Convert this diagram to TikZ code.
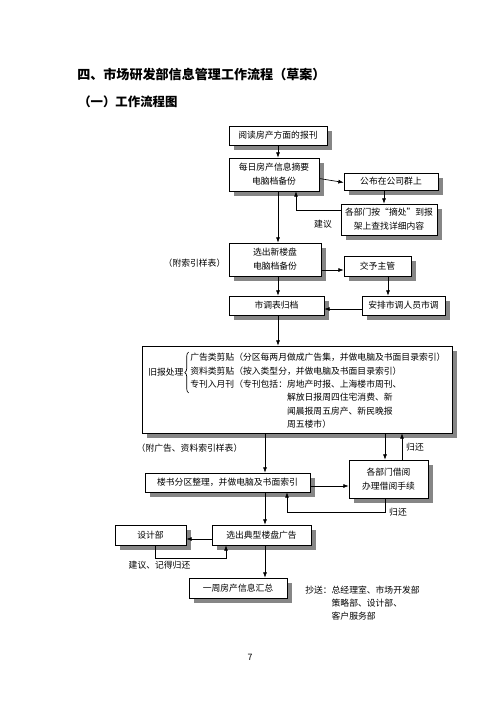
\documentclass[tikz,border=0pt]{standalone}
\usepackage{fontspec}
\setmainfont{Noto Sans CJK SC}
\usetikzlibrary{arrows.meta, calc, shadows, decorations.pathreplacing}

\begin{document}
\begin{tikzpicture}[
  x=0.75pt, y=-0.75pt,
  >={Latex[length=4pt,width=3pt]},
  box/.style={draw, fill=white, line width=0.5pt, inner sep=0pt, align=center,
              font=\fontsize{6.6}{10.5}\selectfont,
              drop shadow={shadow xshift=3.6pt, shadow yshift=-3.6pt,
                           fill=gray!95, opacity=1}},
  boxsize/.style 2 args={minimum width=#1*0.75pt, minimum height=#2*0.75pt},
  arr/.style={->, line width=0.5pt},
  note/.style={font=\fontsize{6.6}{10}\selectfont, inner sep=0pt},
  head/.style={font=\bfseries\fontsize{#1}{12}\selectfont, inner sep=0pt, anchor=west},
]
\fill[white] (0,0) rectangle (500,707);
\useasboundingbox (0,0) rectangle (500,707);

%% ---------- Headings ---------------------------------------------
\node[head=9.8] (title)    at (77,75)  {四、市场研发部信息管理工作流程（草案）};
\node[head=9.3] (subtitle) at (78,102) {（一）工作流程图};

%% ---------- Upper part -------------------------------------------
\node[box, boxsize={98}{19}] (read)    at (278,135.5) {阅读房产方面的报刊};
\node[box, boxsize={90}{33}] (digest)  at (274,174.5) {每日房产信息摘要\\电脑档备份};
\node[box, boxsize={94}{17}] (publish) at (391,181.5) {公布在公司群上};
\node[box, boxsize={96}{31}] (search)  at (389,219.5) {各部门按“摘处”到报\\架上查找详细内容};
\node[note] (advice) at (323,224) {建议};

%% ---------- New buildings ----------------------------------------
\node[box, boxsize={92}{33}] (newbld)  at (275,259.5) {选出新楼盘\\电脑档备份};
\node[note] (indexnote) at (194.5,263) {（附索引样表）};
\node[box, boxsize={67}{20}] (boss)    at (377.5,266) {交予主管};
\node[box, boxsize={95}{19}] (archive) at (276.5,305.5) {市调表归档};
\node[box, boxsize={83}{19}] (survey)  at (403.5,305.5) {安排市调人员市调};

%% ---------- Old newspapers ---------------------------------------
\node[box, boxsize={310}{87}] (oldbox) at (297,389.5) {};
\node[note, anchor=west] (oldlbl) at (148,372) {旧报处理};
\draw[line width=0.5pt, decorate, decoration={brace, amplitude=3}]
      ($(oldlbl.east)+(5,21)$) -- ($(oldlbl.east)+(5,-20)$);
\node[note, anchor=north west, align=left] (oldtxt) at (190,353)
      {广告类剪贴（分区每两月做成广告集，并做电脑及书面目录索引）\\
       资料类剪贴（按入类型分，并做电脑及书面目录索引）\\
       专刊入月刊（专刊包括：房地产时报、上海楼市周刊、\\
       \hphantom{专刊入月刊（专刊包括：}解放日报周四住宅消费、新\\
       \hphantom{专刊入月刊（专刊包括：}闻晨报周五房产、新民晚报\\
       \hphantom{专刊入月刊（专刊包括：}周五楼市）};
\node[note] (adnote) at (189.5,448) {（附广告、资料索引样表）};
\node[note] (return1) at (415,447) {归还};

%% ---------- Lower part -------------------------------------------
\node[box, boxsize={165}{19}] (brochure) at (227.5,482.5) {楼书分区整理，并做电脑及书面索引};
\node[box, boxsize={79}{38}]  (borrow)   at (388.5,479) {各部门借阅\\办理借阅手续};
\node[note] (return2) at (398,512) {归还};
\node[box, boxsize={99}{20}]  (typical)  at (261.5,535) {选出典型楼盘广告};
\node[box, boxsize={71}{20}]  (design)   at (150.5,535) {设计部};
\node[note] (remind) at (159.5,565) {建议、记得归还};
\node[box, boxsize={98}{20}]  (weekly)   at (238,588) {一周房产信息汇总};
\node[note, anchor=north west, align=left, font=\fontsize{6.6}{9.75}\selectfont] (cc)
      at (305,586) {抄送：总经理室、市场开发部\\
                    \hphantom{抄送：}策略部、设计部、\\
                    \hphantom{抄送：}客户服务部};
\node[note] (pageno) at (250,657) {7};

%% ---- Arrows -----------------------------------------------------
\draw[arr] (read) -- (read |- digest.north);
\draw[arr] (read |- digest.south) -- (read |- newbld.north);
\draw[arr] (read |- newbld.south) -- (read |- archive.north);
\draw[arr] (read |- archive.south) -- (read |- oldbox.north);

\draw[arr] ($(digest.east)+(0,4)$) -- ($(publish.west)+(0,1)$);
\draw[arr] ($(publish.south)+(-7,0)$) -- ($(search.north)+(-5,0)$);
\draw[arr] ($(search.west)+(0,-9.5)$) -| ($(digest.south)+(22,0)$);

\draw[arr] ($(newbld.east)+(0,10.5)$) -- ($(boss.west)+(0,4)$);
\draw[arr] ($(boss.south)+(10.5,0)$) -- ($(survey.north)+(-15.5,0)$);
\draw[arr] ($(survey.west)+(0,3.5)$) -- ($(archive.east)+(0,3.5)$);

\draw[arr] ($(oldbox.south)+(-32,0)$) -- ($(brochure.north)+(37.5,0)$);
\draw[arr] ($(oldbox.south)+(88,0)$) -- ($(borrow.north)+(-3.5,0)$);
\draw[arr] ($(borrow.north)+(13.5,0)$) -- ($(oldbox.south)+(105,0)$);

\draw[arr] ($(brochure.east)+(0,3.5)$) -- ($(borrow.west)+(0,7)$);
\draw[arr] ($(borrow.south)+(-3.5,0)$) -- ++(0,14) -| ($(brochure.south)+(59.5,0)$);

\draw[arr] ($(brochure.south)+(37.5,0)$) -- ($(typical.north)+(3.5,0)$);
\draw[arr] ($(typical.west)+(0,4)$) -- ($(design.east)+(0,4)$);
\draw[arr] ($(design.south)+(4.5,0)$) -- ++(0,13) -| ($(typical.south)+(-35.5,0)$);
\draw[arr] ($(typical.south)+(3.5,0)$) -- ($(weekly.north)+(27,0)$);
\end{tikzpicture}
\end{document}
